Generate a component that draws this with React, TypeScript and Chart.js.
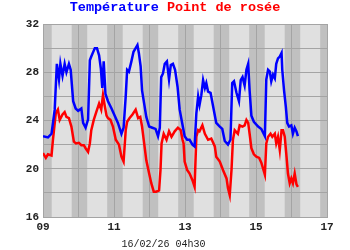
import React, { useEffect, useRef } from "react";
import { Chart, registerables } from "chart.js";

Chart.register(...registerables);

// ---- data ----
const headerTemp = "Température";
const headerDew = "Point de rosée";
const footerLabel = "16/02/26 04h30";

const xTicksMin = 9;
const xTicksMax = 17;
const yMin = 16;
const yMax = 32;

// days whose daylight band is drawn (sunrise/sunset in hours)
const bandDays = [9, 10, 11, 12, 13, 14, 15, 16];
const sunriseHour = 5.9;
const sunsetHour = 19.4;

const tempDays = [
  9.0, 9.14, 9.24, 9.33, 9.39, 9.45, 9.49, 9.55, 9.61, 9.66, 9.73, 9.78, 9.85, 9.92, 9.99,
  10.08, 10.13, 10.2, 10.27, 10.32, 10.36, 10.46, 10.52, 10.58, 10.63, 10.67, 10.71, 10.76, 10.83, 10.93,
  11.02, 11.11, 11.21, 11.27, 11.33, 11.37, 11.42, 11.49, 11.55, 11.61, 11.66, 11.7, 11.75, 11.79, 11.85, 11.91, 11.99,
  12.08, 12.17, 12.24, 12.29, 12.33, 12.38, 12.43, 12.49, 12.55, 12.6, 12.66, 12.72, 12.79, 12.85, 12.92, 12.99,
  13.06, 13.13, 13.21, 13.27, 13.32, 13.37, 13.41, 13.46, 13.51, 13.56, 13.6, 13.65, 13.72, 13.79, 13.88, 13.98,
  14.05, 14.12, 14.21, 14.28, 14.33, 14.38, 14.45, 14.52, 14.57, 14.62, 14.68, 14.73, 14.78, 14.82, 14.87, 14.94,
  15.06, 15.15, 15.25, 15.29, 15.34, 15.39, 15.43, 15.48, 15.53, 15.57, 15.62, 15.67, 15.72, 15.74, 15.79, 15.84, 15.88, 15.93, 15.995,
  16.04, 16.09, 16.14, 16.18,
];
const tempValues = [
  22.7, 22.6, 22.9, 24.9, 28.7, 27.4, 28.7, 27.7, 28.7, 28.0, 28.7, 28.2, 25.6, 25.0, 24.8,
  25.0, 23.8, 23.4, 24.1, 29.0, 29.3, 30.0, 30.0, 29.4, 28.3, 26.7, 28.9, 26.2, 25.6, 25.0,
  24.4, 23.8, 22.9, 23.4, 26.0, 28.2, 28.05, 28.9, 29.7, 30.0, 30.25, 29.6, 28.5, 26.5, 25.4, 24.3, 23.5,
  23.4, 23.3, 22.7, 23.4, 27.6, 27.9, 28.7, 28.9, 27.4, 28.6, 28.7, 28.2, 26.8, 24.9, 23.8, 22.7,
  22.4, 22.4, 22.0, 21.85, 24.6, 26.0, 25.3, 26.1, 27.35, 26.7, 27.1, 26.4, 26.3, 25.2, 23.8, 23.5,
  23.3, 22.3, 22.0, 22.4, 27.1, 27.25, 26.3, 25.6, 27.35, 27.6, 26.9, 28.2, 28.7, 26.5, 24.4, 23.9,
  23.5, 23.3, 22.7, 27.4, 28.2, 28.05, 27.25, 27.8, 27.5, 28.7, 29.15, 29.3, 29.6, 28.2, 26.5, 25.15, 23.8, 23.5, 23.6,
  22.9, 23.4, 23.1, 22.7,
];

const dewDays = [
  9.0, 9.08, 9.14, 9.24, 9.28, 9.36, 9.42, 9.47, 9.55, 9.61, 9.66, 9.73, 9.8, 9.87, 9.93,
  10.01, 10.08, 10.15, 10.2, 10.27, 10.32, 10.36, 10.43, 10.5, 10.58, 10.64, 10.69, 10.74, 10.79, 10.83, 10.9,
  10.97, 11.05, 11.14, 11.21, 11.27, 11.33, 11.37, 11.44, 11.52, 11.61, 11.68, 11.74, 11.79, 11.85, 11.91, 11.99,
  12.05, 12.12, 12.19, 12.27, 12.31, 12.34, 12.4, 12.48, 12.55, 12.62, 12.71, 12.8, 12.88, 12.93, 12.96, 12.99,
  13.06, 13.13, 13.21, 13.27, 13.32, 13.37, 13.41, 13.49, 13.56, 13.65, 13.74, 13.84, 13.88, 13.98,
  14.07, 14.17, 14.21, 14.26, 14.31, 14.35, 14.4, 14.49, 14.54, 14.62, 14.68, 14.73, 14.78, 14.82, 14.87, 14.94,
  15.01, 15.09, 15.15, 15.25, 15.29, 15.34, 15.41, 15.46, 15.53, 15.57, 15.62, 15.67, 15.72, 15.76, 15.81, 15.86, 15.9, 15.95, 15.995,
  16.04, 16.09, 16.14, 16.18,
];
const dewValues = [
  21.3, 20.9, 21.2, 21.1, 22.4, 24.6, 24.9, 24.05, 24.5, 24.7, 24.3, 24.2, 23.5, 22.25, 22.1,
  22.15, 21.95, 21.95, 21.7, 21.4, 22.1, 23.2, 24.05, 24.7, 25.4, 24.9, 26.1, 25.2, 24.4, 24.2, 24.05,
  23.5, 22.4, 22.0, 21.0, 20.6, 23.2, 23.9, 24.2, 24.5, 24.9, 24.2, 24.3, 23.5, 22.1, 20.7, 19.6,
  18.8, 18.1, 18.1, 18.2, 19.9, 22.1, 22.9, 22.4, 23.1, 22.65, 23.1, 23.4, 23.2, 22.4, 22.1, 20.6,
  19.9, 19.6, 19.05, 18.5, 22.65, 23.2, 23.1, 23.6, 22.9, 22.4, 22.5, 21.85, 21.0, 20.6,
  19.9, 19.2, 18.4, 17.8, 19.9, 22.4, 23.2, 22.9, 23.6, 23.5, 23.6, 24.05, 23.8, 22.9, 21.7, 21.2,
  21.0, 20.9, 20.5, 19.5, 22.1, 22.65, 22.9, 22.65, 22.9, 22.1, 22.65, 21.55, 23.2, 23.2, 22.65, 21.0, 19.6, 18.8, 19.2,
  18.8, 19.6, 18.7, 18.5,
];

// ---- styles ----
const blue = "#0000ff";
const red = "#ff0000";
const nightColor = "#c0c0c0";
const dayColor = "#e0e0e0";
const gridColor = "#a4a4a4";
const textColor = "#222222";
const monoFont = '"Liberation Mono", "DejaVu Sans Mono", monospace';

const bandsPlugin = {
  id: "bands",
  beforeDraw(chart: any) {
    const { ctx, chartArea, scales } = chart;
    if (!chartArea) return;
    const { left, right, top, bottom } = chartArea;
    const xs = scales.x;
    ctx.save();
    ctx.fillStyle = "#ffffff";
    ctx.fillRect(0, 0, chart.width, chart.height);
    ctx.fillStyle = nightColor;
    ctx.fillRect(left, top, right - left, bottom - top);
    ctx.fillStyle = dayColor;
    bandDays.forEach((d) => {
      const x0 = xs.getPixelForValue(d + sunriseHour / 24);
      const x1 = xs.getPixelForValue(d + sunsetHour / 24);
      ctx.fillRect(x0, top, x1 - x0, bottom - top);
    });
    ctx.restore();
  },
};

const headerPlugin = {
  id: "header",
  afterDraw(chart: any) {
    const { ctx } = chart;
    ctx.save();
    ctx.font = `bold 13.5px ${monoFont}`;
    ctx.textBaseline = "middle";
    ctx.textAlign = "left";
    const full = headerTemp + " " + headerDew;
    const total = ctx.measureText(full).width;
    let x = chart.width / 2 - total / 2;
    const y = 8;
    ctx.fillStyle = blue;
    ctx.fillText(headerTemp, x, y);
    x += ctx.measureText(headerTemp + " ").width;
    ctx.fillStyle = red;
    ctx.fillText(headerDew, x, y);
    ctx.restore();
  },
};

export default function App() {
  const ref = useRef<HTMLCanvasElement | null>(null);

  useEffect(() => {
    if (!ref.current) return;
    const chart = new Chart(ref.current, {
      type: "line",
      data: {
        datasets: [
          {
            label: headerTemp,
            data: tempDays.map((d, i) => ({ x: d, y: tempValues[i] })),
            borderColor: blue,
            backgroundColor: blue,
            borderWidth: 2.5,
            pointRadius: 0,
            tension: 0,
          },
          {
            label: headerDew,
            data: dewDays.map((d, i) => ({ x: d, y: dewValues[i] })),
            borderColor: red,
            backgroundColor: red,
            borderWidth: 2.5,
            pointRadius: 0,
            tension: 0,
          },
        ],
      },
      options: {
        animation: false,
        responsive: false,
        devicePixelRatio: 1,
        layout: { padding: { top: 24, right: 23, left: 0, bottom: 0 } },
        plugins: {
          legend: { display: false },
          tooltip: { enabled: false },
          title: {
            display: true,
            position: "bottom",
            text: footerLabel,
            color: textColor,
            font: { family: monoFont, size: 10, weight: "normal" },
            padding: { top: 0, bottom: 0 },
          },
        },
        scales: {
          x: {
            type: "linear",
            min: xTicksMin,
            max: xTicksMax,
            grid: { color: gridColor, drawTicks: false, lineWidth: 1 },
            border: { color: gridColor },
            ticks: {
              stepSize: 1,
              autoSkip: false,
              maxRotation: 0,
              padding: 4,
              color: textColor,
              font: { family: monoFont, size: 11, weight: "bold" },
              callback: (v: any) => (Number(v) % 2 === 1 ? String(v).padStart(2, "0") : ""),
            },
            afterFit: (s: any) => {
              s.height = 21;
            },
          },
          y: {
            min: yMin,
            max: yMax,
            grid: { color: gridColor, drawTicks: false, lineWidth: 1 },
            border: { color: gridColor },
            ticks: {
              stepSize: 2,
              padding: 4,
              color: textColor,
              font: { family: monoFont, size: 11, weight: "bold" },
              callback: (v: any) => (Number(v) % 4 === 0 ? String(v) : ""),
            },
            afterFit: (s: any) => {
              s.width = 43;
            },
          },
        },
      },
      plugins: [bandsPlugin, headerPlugin],
    });
    return () => chart.destroy();
  }, []);

  return (
    <div style={{ position: "absolute", left: 0, top: 0, width: 350, height: 250, background: "#fff" }}>
      <canvas ref={ref} width={350} height={250} style={{ display: "block" }} />
    </div>
  );
}
